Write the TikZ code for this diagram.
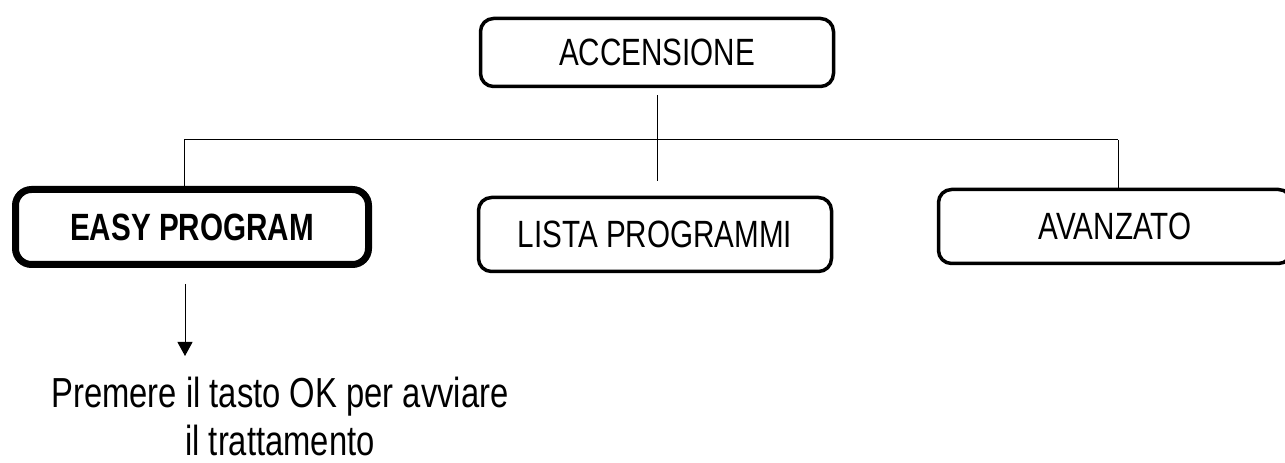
\documentclass[tikz,border=0pt]{standalone}
\usepackage{fontspec}
\setmainfont[FakeStretch=0.78]{Liberation Sans}
\usetikzlibrary{arrows.meta, calc}
\tikzset{
    menubox/.style = {draw, line width=3.5pt, rounded corners=13pt,
        minimum width=353pt, minimum height=74pt, inner sep=0pt,
        font=\fontsize{38}{44}\selectfont},
    selbox/.style = {menubox, line width=7pt, rounded corners=16pt,
        minimum height=75pt, font=\fontsize{38}{44}\selectfont\bfseries},
    link/.style = {line width=1pt},
}

\begin{document}
\begin{tikzpicture}[x=1pt, y=1pt]
\clip (0,0) rectangle (1285,463);

\node[menubox, minimum height=68pt] (acc) at (657,410.5) {ACCENSIONE};
\node[selbox] (easy) at (192,236) {EASY PROGRAM};
\node[menubox] (lista) at (655,228.5) {LISTA PROGRAMMI};
\node[menubox] (avanz) at (1115,236.5) {AVANZATO};
\node[align=center, inner sep=0pt, font=\fontsize{42}{48}\selectfont] (hint) at (280,47)
    {Premere il tasto OK per avviare\\il trattamento};

% bus under ACCENSIONE
\coordinate (busl) at (184,323);
\coordinate (busr) at (1118,323);
\draw[link] ($(acc.south)+(0,-7)$) -- ($(acc.south |- lista.north)+(0,15)$);
\draw[link] (busl) -- (busr);
\draw[link] (busl) -- (busl |- easy.north);
\draw[link] (busr) -- (busr |- avanz.north);

% EASY PROGRAM -> hint
\coordinate (tip) at (185,107);
\draw[link, -{Triangle[width=15pt,length=14pt]}] ($(tip |- easy.south)+(0,-16)$) -- (tip);
\end{tikzpicture}
\end{document}
